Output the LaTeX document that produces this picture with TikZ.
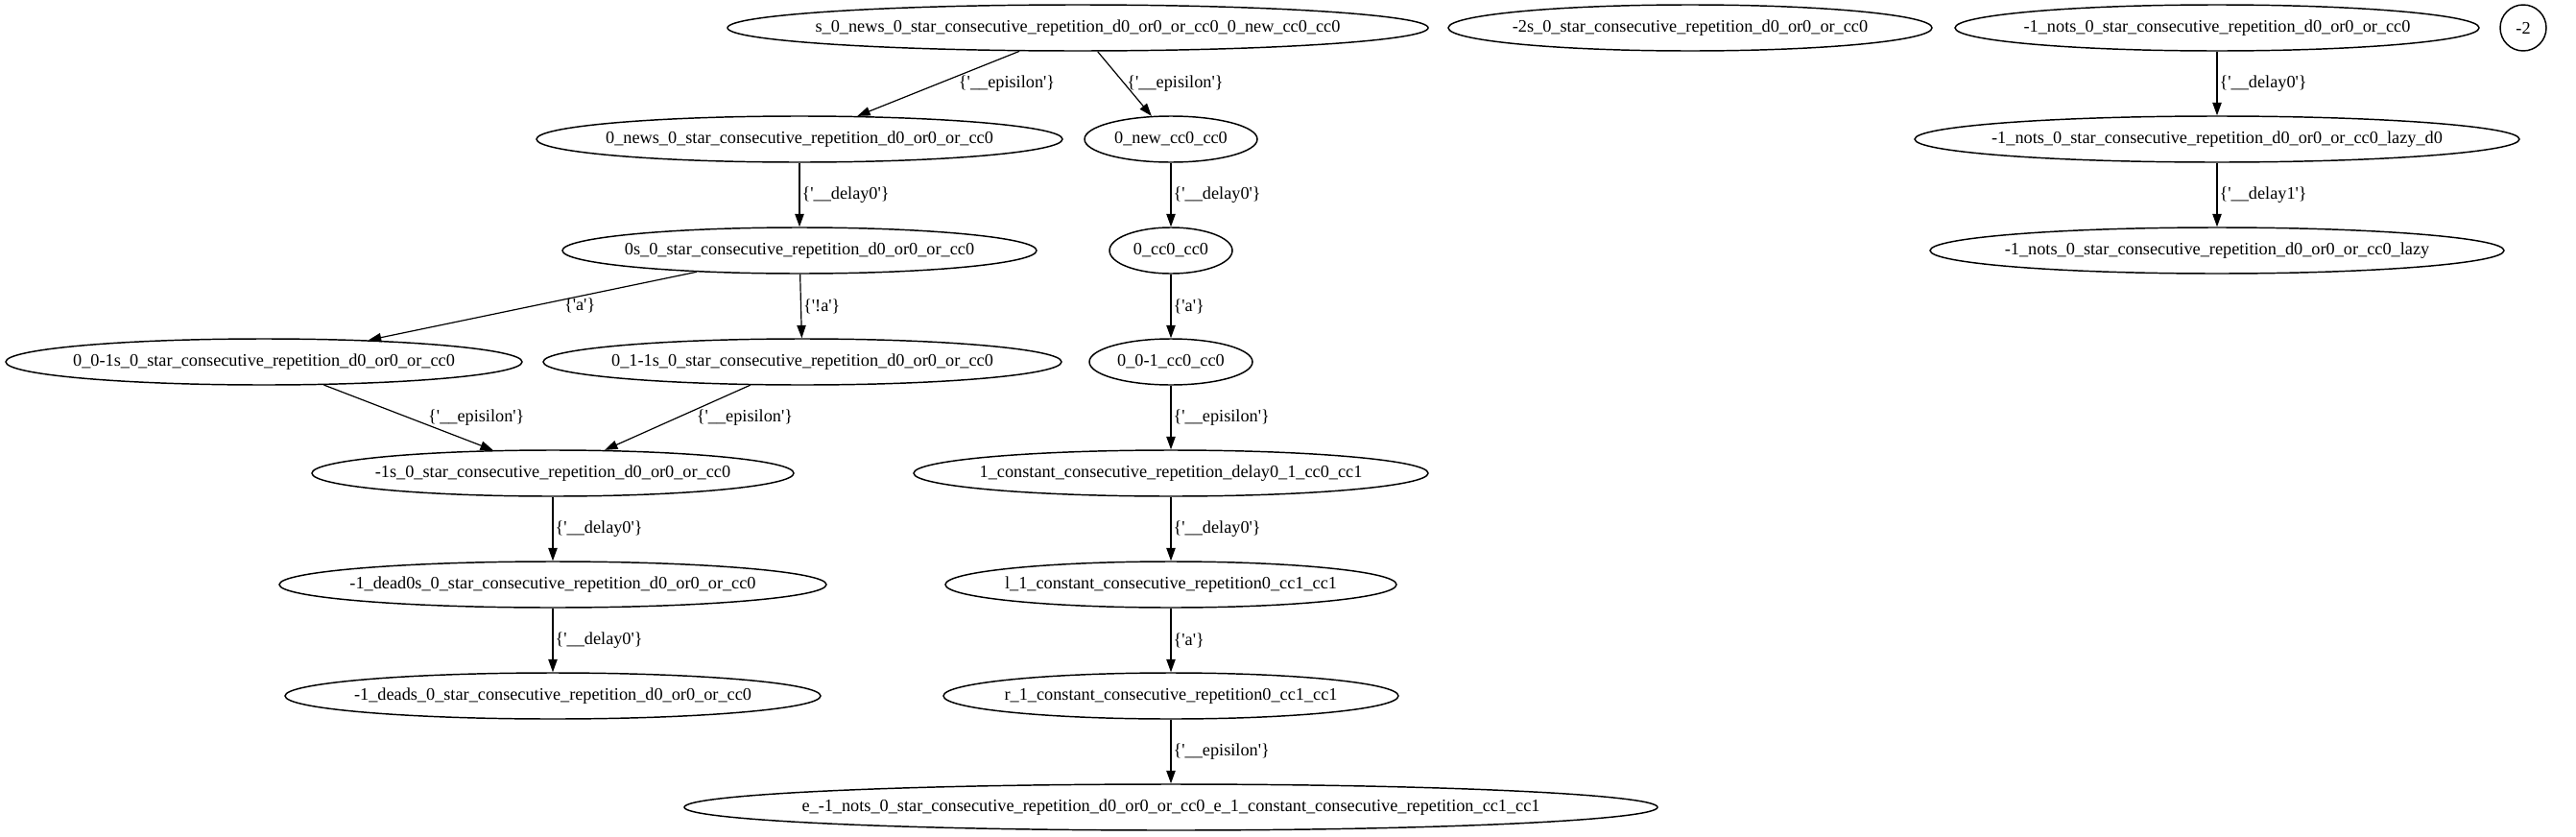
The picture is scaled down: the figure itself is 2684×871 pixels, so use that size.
\documentclass[tikz,border=0pt]{standalone}
\usepackage{fontspec}
\setmainfont{Liberation Serif}
\usetikzlibrary{shapes.geometric,arrows.meta}
\newcommand{\q}{\textquotesingle}
\newcommand{\stlabel}[1]{\makebox[0pt]{#1}}
\begin{document}
\begin{tikzpicture}[x=0.75pt, y=-0.75pt,
    every node/.style={font=\fontsize{13.7pt}{16pt}\selectfont},
    state/.style={ellipse, draw, line width=1.1pt, inner sep=0pt, minimum height=36pt},
    lbl/.style={right, inner sep=1.5pt},
    trans/.style={-{Triangle[length=10pt,width=7pt]}, line width=0.9pt}]
    \useasboundingbox (0,0) rectangle (2684,871);
    % top row
    \node[state, minimum width=547.5pt] (s0) at (1123,29) {\stlabel{s\_0\_news\_0\_star\_consecutive\_repetition\_d0\_or0\_or\_cc0\_0\_new\_cc0\_cc0}};
    \node[state, minimum width=378pt] (m2s) at (1761,29) {\stlabel{-2s\_0\_star\_consecutive\_repetition\_d0\_or0\_or\_cc0}};
    \node[state, minimum width=409.5pt] (nots) at (2310,29) {\stlabel{-1\_nots\_0\_star\_consecutive\_repetition\_d0\_or0\_or\_cc0}};
    \node[state, minimum width=36pt] (m2) at (2629,29) {\stlabel{-2}};
    % left branch
    \node[state, minimum width=411pt] (news) at (833,145) {\stlabel{0\_news\_0\_star\_consecutive\_repetition\_d0\_or0\_or\_cc0}};
    \node[state, minimum width=370.5pt] (zs) at (833,261) {\stlabel{0s\_0\_star\_consecutive\_repetition\_d0\_or0\_or\_cc0}};
    \node[state, minimum width=403.5pt] (a0) at (275,377) {\stlabel{0\_0-1s\_0\_star\_consecutive\_repetition\_d0\_or0\_or\_cc0}};
    \node[state, minimum width=405pt] (a1) at (836,377) {\stlabel{0\_1-1s\_0\_star\_consecutive\_repetition\_d0\_or0\_or\_cc0}};
    \node[state, minimum width=376.5pt] (m1) at (576,493) {\stlabel{-1s\_0\_star\_consecutive\_repetition\_d0\_or0\_or\_cc0}};
    \node[state, minimum width=427.5pt] (dead0) at (576,609) {\stlabel{-1\_dead0s\_0\_star\_consecutive\_repetition\_d0\_or0\_or\_cc0}};
    \node[state, minimum width=418.5pt] (deads) at (576,725) {\stlabel{-1\_deads\_0\_star\_consecutive\_repetition\_d0\_or0\_or\_cc0}};
    % middle branch
    \node[state, minimum width=135pt] (new) at (1220,145) {\stlabel{0\_new\_cc0\_cc0}};
    \node[state, minimum width=96pt] (cc) at (1220,261) {\stlabel{0\_cc0\_cc0}};
    \node[state, minimum width=127.5pt] (cc1) at (1220,377) {\stlabel{0\_0-1\_cc0\_cc0}};
    \node[state, minimum width=402pt] (const) at (1220,493) {\stlabel{1\_constant\_consecutive\_repetition\_delay0\_1\_cc0\_cc1}};
    \node[state, minimum width=352.5pt] (l1) at (1220,609) {\stlabel{l\_1\_constant\_consecutive\_repetition0\_cc1\_cc1}};
    \node[state, minimum width=355.5pt] (r1) at (1220,725) {\stlabel{r\_1\_constant\_consecutive\_repetition0\_cc1\_cc1}};
    \node[state, minimum width=760.5pt] (fin) at (1220,841) {\stlabel{e\_-1\_nots\_0\_star\_consecutive\_repetition\_d0\_or0\_or\_cc0\_e\_1\_constant\_consecutive\_repetition\_cc1\_cc1}};
    % right branch
    \node[state, minimum width=472.5pt] (lazyd) at (2310,145) {\stlabel{-1\_nots\_0\_star\_consecutive\_repetition\_d0\_or0\_or\_cc0\_lazy\_d0}};
    \node[state, minimum width=448.5pt] (lazy) at (2310,261) {\stlabel{-1\_nots\_0\_star\_consecutive\_repetition\_d0\_or0\_or\_cc0\_lazy}};
    % transitions
    \draw[trans] (s0) -- node[lbl, xshift=14pt] {\{\q\_\_episilon\q\}} (news);
    \draw[trans] (s0) -- node[lbl] {\{\q\_\_episilon\q\}} (new);
    \draw[trans] (news) -- node[lbl] {\{\q\_\_delay0\q\}} (zs);
    \draw[trans] (zs) -- node[lbl, xshift=23pt] {\{\q a\q\}} (a0);
    \draw[trans] (zs) -- node[lbl] {\{\q!a\q\}} (a1);
    \draw[trans] (a0) -- node[lbl, xshift=13.5pt] {\{\q\_\_episilon\q\}} (m1);
    \draw[trans] (a1) -- node[lbl, xshift=13pt] {\{\q\_\_episilon\q\}} (m1);
    \draw[trans] (m1) -- node[lbl] {\{\q\_\_delay0\q\}} (dead0);
    \draw[trans] (dead0) -- node[lbl] {\{\q\_\_delay0\q\}} (deads);
    \draw[trans] (new) -- node[lbl] {\{\q\_\_delay0\q\}} (cc);
    \draw[trans] (cc) -- node[lbl] {\{\q a\q\}} (cc1);
    \draw[trans] (cc1) -- node[lbl] {\{\q\_\_episilon\q\}} (const);
    \draw[trans] (const) -- node[lbl] {\{\q\_\_delay0\q\}} (l1);
    \draw[trans] (l1) -- node[lbl] {\{\q a\q\}} (r1);
    \draw[trans] (r1) -- node[lbl] {\{\q\_\_episilon\q\}} (fin);
    \draw[trans] (nots) -- node[lbl] {\{\q\_\_delay0\q\}} (lazyd);
    \draw[trans] (lazyd) -- node[lbl] {\{\q\_\_delay1\q\}} (lazy);
\end{tikzpicture}
\end{document}
